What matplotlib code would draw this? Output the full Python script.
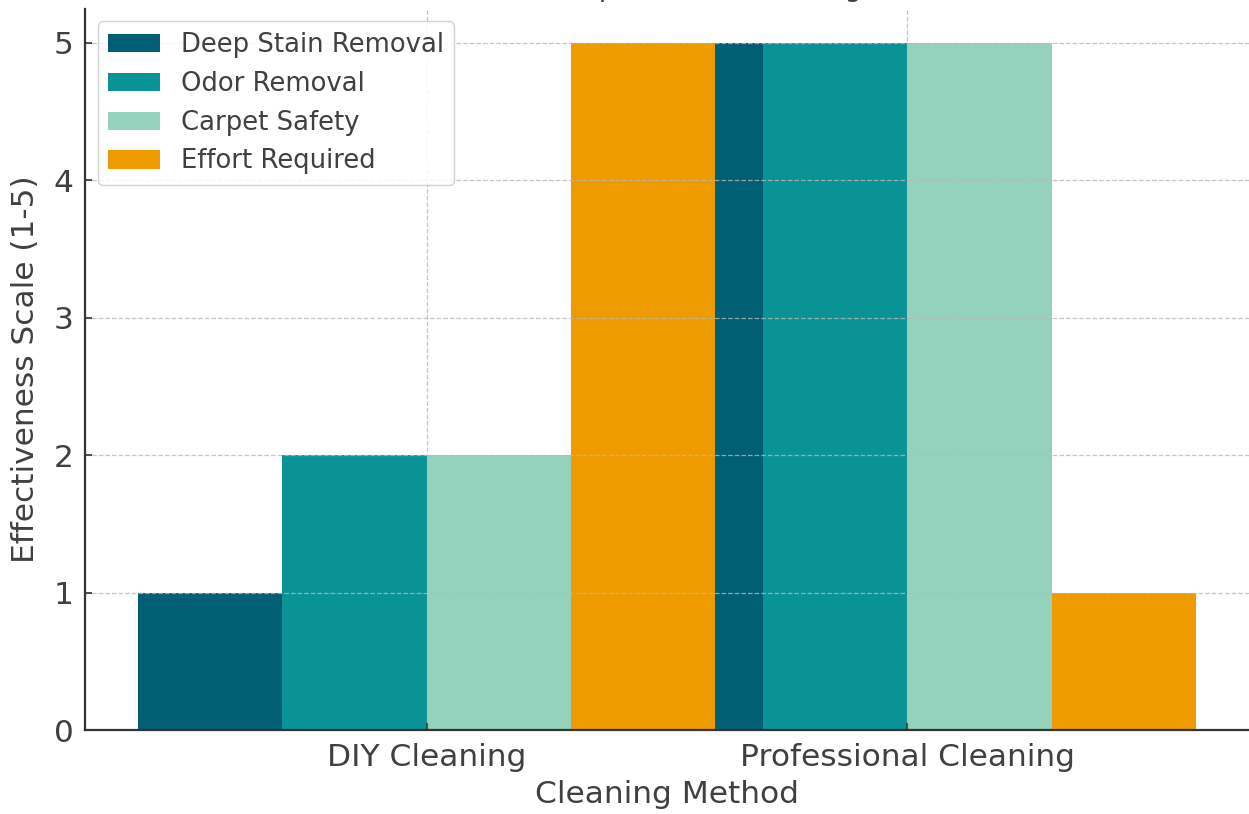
import matplotlib
matplotlib.use('Agg')
import matplotlib.pyplot as plt
import numpy as np

# categories and scores (1-5 scale)
methods = ['DIY Cleaning', 'Professional Cleaning']
deep_stain = [1, 5]
odor = [2, 5]
carpet_safety = [2, 5]
effort = [5, 1]

series_names = ['Deep Stain Removal', 'Odor Removal', 'Carpet Safety', 'Effort Required']
series_values = [deep_stain, odor, carpet_safety, effort]
series_colors = ['#005f73', '#0a9396', '#94d2bd', '#ee9b00']

text_color = '#404040'

fig = plt.figure(figsize=(12.49, 8.14), dpi=100)
ax = fig.add_axes([85/1249, 84/814, 1164/1249, 721.5/814])

x = np.arange(len(methods))
width = 0.3
for i, (name, vals, col) in enumerate(zip(series_names, series_values, series_colors)):
    ax.bar(x + (i - 1.5)*width, vals, width, label=name, color=col)

ax.set_ylim(0, 5.25)
ax.set_xticks(x)
ax.set_xticklabels(methods)
ax.grid(True, linestyle='--', color='#b8b8b8', linewidth=0.9, alpha=0.8)

ax.set_title('Effectiveness Comparison of Cleaning Methods', fontsize=19.5, pad=9, color=text_color)
ax.set_xlabel('Cleaning Method', fontsize=22.5, color=text_color, labelpad=6)
ax.set_ylabel('Effectiveness Scale (1-5)', fontsize=22.5, color=text_color, labelpad=10)
ax.tick_params(axis='both', labelsize=22.5, colors=text_color, width=1.3, direction='in', length=5)
ax.tick_params(axis='y', pad=8)
ax.tick_params(axis='x', pad=9)

for side in ['top', 'right']:
    ax.spines[side].set_visible(False)
for side in ['left', 'bottom']:
    ax.spines[side].set_color('#333333')
    ax.spines[side].set_linewidth(1.6)

leg = ax.legend(loc='upper left', fontsize=18.6, framealpha=0.85, edgecolor='#cccccc')
for t in leg.get_texts():
    t.set_color(text_color)

fig.savefig('out.png', dpi=100)
